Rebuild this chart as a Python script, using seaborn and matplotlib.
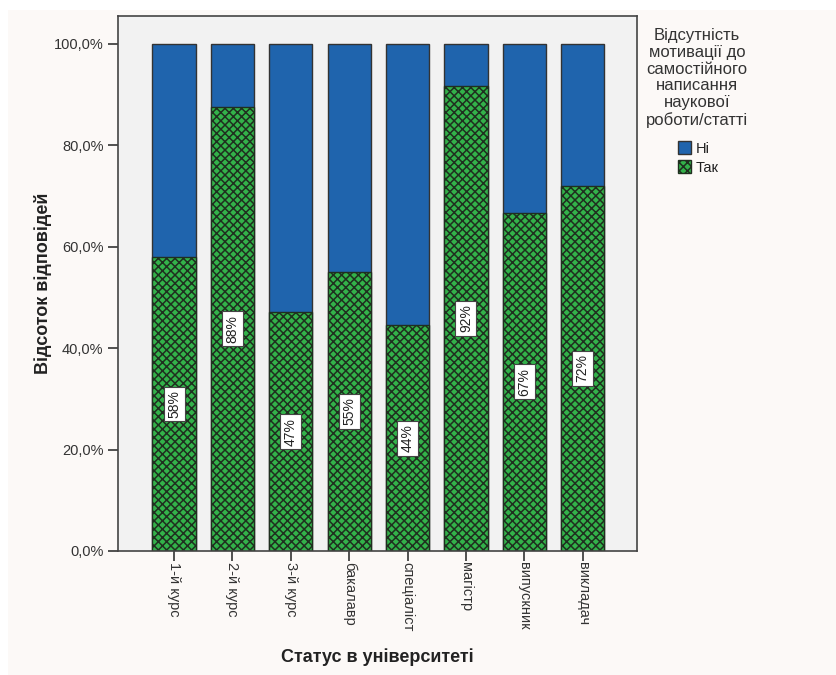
import matplotlib
matplotlib.use("Agg")
import matplotlib.pyplot as plt
import matplotlib.patches as mpatches
from matplotlib.ticker import FuncFormatter
import seaborn as sb
import pandas as pd

statuses = ['1-й курс', '2-й курс', '3-й курс', 'бакалавр', 'спеціаліст', 'магістр', 'випускник', 'викладач']
tak_pct = [58.0, 87.6, 47.1, 55.0, 44.5, 91.7, 66.7, 72.0]
ni_pct = [100 - v for v in tak_pct]
legend_labels = ['Ні', 'Так']
legend_title = 'Відсутність\nмотивації до\nсамостійного\nнаписання\nнаукової\nроботи/статті'

blue = '#1f64ad'
green = '#33b24a'
dark = '#333333'
hatch_col = '#1f2f1f'

sb.set_style('white')
plt.rcParams['font.family'] = ['Liberation Sans', 'DejaVu Sans']
plt.rcParams['hatch.linewidth'] = 1.1

df = pd.DataFrame({'status': statuses, 'tak': tak_pct, 'total': [a + b for a, b in zip(tak_pct, ni_pct)]})

fig = plt.figure(figsize=(8.36, 6.75), dpi=100, facecolor='white')
fig.patches.append(mpatches.Rectangle((8 / 836, 0), 1, 1 - 10 / 675, transform=fig.transFigure,
                                      facecolor='#fcf9f7', edgecolor='none', zorder=-10))
ax = fig.add_axes([118 / 836, 1 - 551 / 675, (637 - 118) / 836, (551 - 16) / 675])
ax.set_facecolor('#f2f2f2')

# full bar (Ні on top), then Так over it
sb.barplot(data=df, x='status', y='total', color=blue, saturation=1, width=0.74,
           edgecolor=dark, linewidth=1, ax=ax)
sb.barplot(data=df, x='status', y='tak', color=green, saturation=1, width=0.74,
           edgecolor=hatch_col, linewidth=1, hatch='xxxx', ax=ax)
for bar in ax.containers[1]:
    bar.set_edgecolor(hatch_col)

ax.bar_label(ax.containers[1], labels=[f'{v:.0f}%' for v in tak_pct], label_type='center',
             rotation=90, fontsize=10, color='#222222',
             bbox=dict(boxstyle='square,pad=0.25', facecolor='white', edgecolor='#444444', linewidth=0.8))

ax.set_ylim(0, 105.5)
ax.set_xlim(-0.96, 7.93)
ax.set_yticks([0, 20, 40, 60, 80, 100])
ax.yaxis.set_major_formatter(FuncFormatter(lambda v, p: f'{v:.1f}%'.replace('.', ',')))
ax.tick_params(axis='both', direction='out', length=7, width=1.2, color=dark, labelsize=10.5,
               labelcolor='#333333', left=True, bottom=True)
ax.tick_params(axis='x', pad=1)
ax.set_xticks(range(len(statuses)))
ax.set_xticklabels(statuses, rotation=270, va='top', ha='center')
for s in ax.spines.values():
    s.set_color('#444444')
    s.set_linewidth(1.2)

ax.set_ylabel('Відсоток відповідей', fontsize=13, fontweight='bold', color='#222222', labelpad=1)
ax.set_xlabel('Статус в університеті', fontsize=13, fontweight='bold', color='#222222', labelpad=12)

fig.text(697 / 836, 1 - 28 / 675, legend_title, ha='center', va='top', fontsize=12,
         color='#333333', linespacing=1.15)
handles = [mpatches.Patch(facecolor=blue, edgecolor=dark, label=legend_labels[0]),
           mpatches.Patch(facecolor=green, edgecolor=hatch_col, hatch='xxxx', label=legend_labels[1])]
leg = fig.legend(handles=handles, loc='upper left',
                 bbox_to_anchor=(668 / 836, 1 - 131 / 675), frameon=False, fontsize=10.5,
                 handlelength=0.9, handleheight=1.0, handletextpad=0.3,
                 labelspacing=0.3, borderpad=0.2)
for t in leg.get_texts():
    t.set_color('#222222')

fig.savefig('out.png', dpi=100, facecolor=fig.get_facecolor())
